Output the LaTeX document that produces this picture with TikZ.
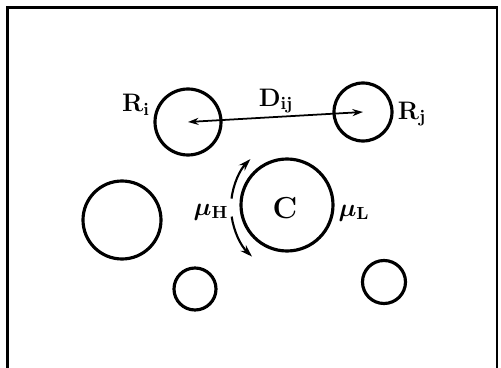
\documentclass[tikz,border=0pt]{standalone}
\usepackage{bm}
\usetikzlibrary{arrows.meta}

\tikzset{
  grain/.style={line width=1.8pt},
  flow/.style={line width=1.2pt,-{Stealth[length=7pt,width=4.5pt]}},
  lbl/.style={font=\Large\bfseries,inner sep=1pt}
}

\begin{document}
\begin{tikzpicture}[x=0.02cm,y=-0.02cm]

   \useasboundingbox (0,0) rectangle (501,368);

   % frame
   \draw[line width=1.4pt] (7.5,368) -- (7.5,7.5) -- (497,7.5) -- (497,368);

   % grains
   \coordinate (ri) at (188,122);
   \coordinate (rj) at (363,112);
   \coordinate (c)  at (287,205);
   \draw[grain] (ri) circle[radius=33];
   \draw[grain] (rj) circle[radius=29];
   \draw[grain] (c) circle[radius=46];
   \draw[grain] (122,220) circle[radius=39];
   \draw[grain] (195,289) circle[radius=21];
   \draw[grain] (384,282) circle[radius=21.5];

   % distance
   \draw[line width=1pt,{Stealth[length=6pt,width=4pt]}-{Stealth[length=6pt,width=4pt]}] (ri) -- (rj);

   % rotation arrows
   \draw[flow] (300,207) ++(187:69) arc[start angle=187,end angle=224,radius=69];
   \draw[flow] (300,207) ++(172:69) arc[start angle=172,end angle=134,radius=69];

   % labels
   \node[lbl] (lri) at (136,105) {$\mathbf{R_i}$};
   \node[lbl] (ldij) at (276,101) {$\mathbf{D_{ij}}$};
   \node[lbl] (lrj) at (412,114) {$\mathbf{R_j}$};
   \node[lbl,font=\LARGE\bfseries] (lc) at (285,208) {C};
   \node[lbl] (lmuh) at (211,212) {$\bm{\mu}_{\mathbf{H}}$};
   \node[lbl] (lmul) at (354,213) {$\bm{\mu}_{\mathbf{L}}$};

\end{tikzpicture}
\end{document}
